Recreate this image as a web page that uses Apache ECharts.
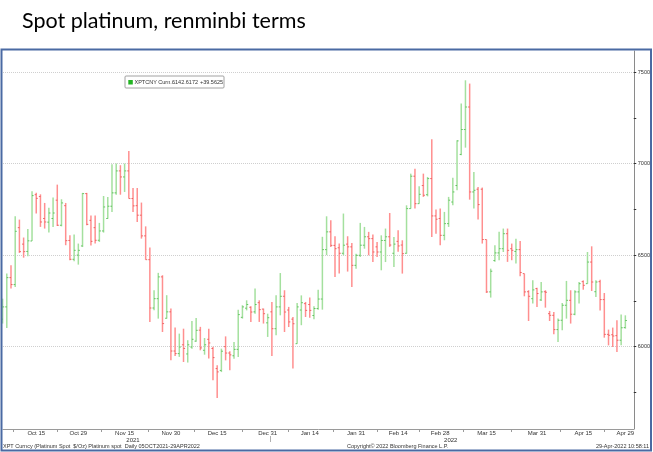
<!DOCTYPE html>
<html><head><meta charset="utf-8">
<script src="https://cdn.jsdelivr.net/npm/echarts@6/dist/echarts.min.js"></script>
<style>html,body{margin:0;padding:0;background:#fff;}#c{width:653px;height:452px;}</style>
</head><body><div id="c"></div>
<script>
const dates = [
'2021-10-05','2021-10-06','2021-10-07','2021-10-08','2021-10-11','2021-10-12','2021-10-13','2021-10-14','2021-10-15','2021-10-18','2021-10-19','2021-10-20','2021-10-21','2021-10-22','2021-10-25','2021-10-26','2021-10-27','2021-10-28','2021-10-29',
'2021-11-01','2021-11-02','2021-11-03','2021-11-04','2021-11-05','2021-11-08','2021-11-09','2021-11-10','2021-11-11','2021-11-12','2021-11-15','2021-11-16','2021-11-17','2021-11-18','2021-11-19','2021-11-22','2021-11-23','2021-11-24','2021-11-25','2021-11-26','2021-11-29','2021-11-30',
'2021-12-01','2021-12-02','2021-12-03','2021-12-06','2021-12-07','2021-12-08','2021-12-09','2021-12-10','2021-12-13','2021-12-14','2021-12-15','2021-12-16','2021-12-17','2021-12-20','2021-12-21','2021-12-22','2021-12-23','2021-12-24','2021-12-27','2021-12-28','2021-12-29','2021-12-30','2021-12-31',
'2022-01-03','2022-01-04','2022-01-05','2022-01-06','2022-01-07','2022-01-10','2022-01-11','2022-01-12','2022-01-13','2022-01-14','2022-01-17','2022-01-18','2022-01-19','2022-01-20','2022-01-21','2022-01-24','2022-01-25','2022-01-26','2022-01-27','2022-01-28','2022-01-31',
'2022-02-01','2022-02-02','2022-02-03','2022-02-04','2022-02-07','2022-02-08','2022-02-09','2022-02-10','2022-02-11','2022-02-14','2022-02-15','2022-02-16','2022-02-17','2022-02-18','2022-02-21','2022-02-22','2022-02-23','2022-02-24','2022-02-25','2022-02-28',
'2022-03-01','2022-03-02','2022-03-03','2022-03-04','2022-03-07','2022-03-08','2022-03-09','2022-03-10','2022-03-11','2022-03-14','2022-03-15','2022-03-16','2022-03-17','2022-03-18','2022-03-21','2022-03-22','2022-03-23','2022-03-24','2022-03-25','2022-03-28','2022-03-29','2022-03-30','2022-03-31',
'2022-04-01','2022-04-04','2022-04-05','2022-04-06','2022-04-07','2022-04-08','2022-04-11','2022-04-12','2022-04-13','2022-04-14','2022-04-15','2022-04-18','2022-04-19','2022-04-20','2022-04-21','2022-04-22','2022-04-25','2022-04-26','2022-04-27','2022-04-28','2022-04-29'];
const openV = [6150,6217,6377,6339,6650,6560,6520,6577,6830,6820,6700,6680,6700,6800,6663,6770,6580,6477,6500,6550,6836,6690,6650,6581,6632,6700,6767,6840,6960,6927,6960,6809,6770,6718,6605,6475,6211,6262,6381,6155,6190,5976,5962,6010,5960,5998,6030,6090,5980,6040,5990,5880,5870,6000,5965,5950,5985,6160,6210,6215,6190,6240,6205,6130,6190,6098,6217,6275,6200,6150,6016,6200,6235,6230,6170,6208,6260,6530,6627,6553,6540,6510,6560,6545,6444,6499,6554,6600,6590,6545,6517,6580,6600,6510,6575,6555,6510,6754,6931,6781,6880,6830,6918,6714,6700,6608,6672,6790,6880,7050,7186,7309,6845,6860,6860,6585,6299,6470,6512,6535,6617,6535,6520,6530,6399,6300,6262,6317,6255,6300,6180,6171,6093,6144,6226,6253,6177,6299,6355,6344,6462,6300,6355,6257,6067,6065,6060,6035,6104];
const highV = [6262,6399,6444,6712,6694,6596,6643,6849,6840,6832,6785,6759,6814,6885,6805,6785,6608,6612,6563,6840,6840,6717,6717,6676,6823,6818,6996,7000,6991,7000,7069,6867,6867,6787,6657,6541,6308,6403,6390,6281,6208,6104,6071,6098,6035,6140,6157,6108,6047,6098,6000,5898,5989,6056,5975,6025,6202,6226,6253,6220,6317,6253,6208,6180,6244,6280,6402,6308,6217,6162,6238,6280,6244,6268,6220,6311,6600,6712,6690,6603,6563,6727,6603,6566,6508,6676,6654,6627,6612,6572,6608,6645,6730,6599,6636,6581,6772,6945,6972,6876,6945,6927,7133,6749,6754,6736,6818,6923,7127,7328,7455,7437,6954,6872,6869,6585,6426,6554,6627,6645,6645,6563,6590,6577,6399,6308,6362,6322,6353,6308,6195,6189,6153,6238,6359,6308,6308,6353,6362,6517,6548,6362,6366,6293,6093,6104,6144,6175,6171];
const lowV = [6126,6102,6317,6326,6512,6486,6494,6577,6727,6654,6645,6623,6654,6659,6657,6554,6472,6466,6448,6544,6663,6552,6563,6572,6623,6699,6736,6830,6830,6845,6809,6736,6681,6590,6475,6135,6199,6153,6080,6153,5926,5949,5944,5916,5913,5989,6026,5980,5956,5935,5816,5720,5861,5925,5871,5934,5943,6153,6198,6135,6180,6135,6126,6053,5949,6062,6171,6080,6107,5880,6016,6117,6162,6158,6149,6202,6202,6500,6544,6381,6399,6499,6410,6326,6426,6490,6535,6499,6462,6490,6417,6462,6545,6435,6518,6399,6508,6754,6754,6781,6818,6821,6599,6617,6554,6581,6654,6772,6854,7045,7087,6803,6754,6694,6563,6293,6268,6463,6472,6517,6463,6472,6454,6384,6275,6140,6235,6217,6249,6213,6140,6067,6025,6089,6153,6126,6171,6235,6311,6344,6304,6271,6198,6049,6007,5998,5971,6007,6098];
const closeV = [6217,6377,6339,6630,6519,6519,6578,6825,6810,6681,6681,6730,6730,6663,6785,6579,6477,6526,6526,6836,6668,6575,6581,6632,6763,6767,6840,6960,6927,6960,6809,6769,6718,6605,6475,6211,6262,6381,6126,6190,5976,5962,5998,5990,6010,6040,6089,5993,6010,6020,5940,5862,5975,5965,5955,5985,6175,6217,6230,6189,6230,6202,6180,6158,6098,6217,6275,6189,6135,6125,6217,6240,6198,6198,6208,6260,6530,6627,6553,6535,6510,6554,6545,6444,6499,6554,6600,6590,6517,6517,6580,6600,6555,6560,6550,6508,6754,6931,6781,6832,6827,6918,6714,6696,6608,6672,6800,6845,7124,7186,7309,6845,6854,6776,6585,6299,6412,6512,6535,6617,6526,6526,6530,6405,6299,6275,6310,6290,6299,6297,6171,6093,6144,6226,6253,6177,6299,6344,6335,6462,6353,6353,6257,6067,6062,6058,6035,6103.0547,6142.6172];

const xLabelDates = ['2021-10-15','2021-10-29','2021-11-15','2021-11-30','2021-12-15','2021-12-31','2022-01-14','2022-01-31','2022-02-14','2022-02-28','2022-03-15','2022-03-31','2022-04-15','2022-04-29'];
const xLabelText = ['Oct 15','Oct 29','Nov 15','Nov 30','Dec 15','Dec 31','Jan 14','Jan 31','Feb 14','Feb 28','Mar 15','Mar 31','Apr 15','Apr 29'];
const yearText = ['2021','2022'];
const yLabelValues = [6000,6500,7000,7500];
const yTickValues = [5750,6000,6250,6500,6750,7000,7250,7500];
const titleText = 'Spot platinum, renminbi terms';
const seriesName = 'XPTCNY Curn...';
const footerLeft = 'XPT Curncy (Platinum Spot  $/Oz) Platinum spot  Daily 05OCT2021-29APR2022';
const footerMid = 'Copyright\u00A9 2022 Bloomberg Finance L.P.';
const footerRight = '29-Apr-2022 10:58:11';

const xLabelIdx = xLabelDates.map(d => dates.indexOf(d));
const xTickIdx = [];
{
  const all = [xLabelIdx[0] - 11].concat(xLabelIdx);
  for (let i = 1; i < all.length; i++) xTickIdx.push((all[i] + all[i-1]) / 2);
}
const yearIdx = [31, 106.5];
const yearBreak = [dates.indexOf('2021-12-31') + 0.5];

const ohlc = dates.map((d, i) => [i, openV[i], closeV[i], lowV[i], highV[i]]);
const lastC = closeV[closeV.length - 1];
const chg = lastC - closeV[closeV.length - 2];

const smallFont = 'Liberation Sans, Arial, sans-serif';
const chart = echarts.init(document.getElementById('c'), null, {renderer: 'canvas'});
chart.setOption({
  animation: false,
  backgroundColor: '#ffffff',
  grid: {left: 3, right: 19, top: 51, bottom: 23},
  xAxis: [{
    type: 'value', min: 0.1, max: 150, position: 'bottom',
    axisLine: {show: true, lineStyle: {color: '#9a9a9a', width: 1}},
    axisTick: {show: true, customValues: xTickIdx, length: 3, lineStyle: {color: '#9a9a9a'}},
    axisLabel: {customValues: xLabelIdx, formatter: v => xLabelText[xLabelIdx.indexOf(v)] || '', fontSize: 6, fontFamily: smallFont, color: '#333', margin: 1.5},
    splitLine: {show: false}
  }, {
    type: 'value', min: 0.1, max: 150, position: 'bottom', offset: 7,
    axisLine: {show: false},
    axisTick: {show: true, customValues: yearBreak, length: 6, lineStyle: {color: '#b0b0b0'}},
    axisLabel: {customValues: yearIdx, formatter: v => yearText[yearIdx.indexOf(v)] || '', fontSize: 6, fontFamily: smallFont, color: '#333', margin: 1.5},
    splitLine: {show: false}
  }],
  yAxis: {
    type: 'value', position: 'right', min: 5550, max: 7615, scale: true,
    axisLine: {show: true, lineStyle: {color: '#8a8a8a', width: 1}},
    axisTick: {show: true, customValues: yTickValues, length: 2.5, lineStyle: {color: '#333'}},
    axisLabel: {customValues: yLabelValues, formatter: v => String(v), fontSize: 5.5, fontFamily: smallFont, color: '#333', margin: 4},
    splitLine: {show: false}
  },
  series: [{
    type: 'custom',
    name: seriesName,
    xAxisIndex: 0,
    data: ohlc,
    clip: false,
    renderItem: function (params, api) {
      const x = api.value(0), o = api.value(1), c = api.value(2), l = api.value(3), h = api.value(4);
      const pO = api.coord([x, o]), pC = api.coord([x, c]), pL = api.coord([x, l]), pH = api.coord([x, h]);
      const up = c >= o;
      const bar = up ? '#a4e09e' : '#ff8f8f';
      const tk = up ? '#45b845' : '#e84a4a';
      return {type: 'group', children: [
        {type: 'line', shape: {x1: pH[0], y1: pH[1], x2: pL[0], y2: pL[1]}, style: {stroke: bar, lineWidth: 1.5}},
        {type: 'line', shape: {x1: pO[0] - 1.6, y1: pO[1], x2: pO[0], y2: pO[1]}, style: {stroke: tk, lineWidth: 0.8}},
        {type: 'line', shape: {x1: pC[0], y1: pC[1], x2: pC[0] + 1.6, y2: pC[1]}, style: {stroke: tk, lineWidth: 0.8}}
      ]};
    },
    markLine: {
      silent: true, symbol: ['none', 'none'], label: {show: false},
      lineStyle: {color: '#cfcfcf', type: 'dotted', width: 1},
      data: yLabelValues.map(v => ({yAxis: v})),
      z: 0
    },
    z: 2
  }],
  graphic: [
    {type: 'text', left: 22, top: 10, style: {text: titleText, font: '21.5px Lato, "Open Sans", sans-serif', fill: '#000'}},
    {type: 'rect', shape: {x: 1.5, y: 49.5, width: 649.5, height: 401}, style: {fill: 'none', stroke: '#4a6aa3', lineWidth: 2}, z: 100},
    {type: 'rect', shape: {x: 125, y: 76, width: 99, height: 12, r: 1}, style: {fill: '#fff', stroke: '#8c8c8c', lineWidth: 0.8}, z: 50},
    {type: 'rect', shape: {x: 128.3, y: 80, width: 4.5, height: 4.5}, style: {fill: '#22b422'}, z: 51},
    {type: 'text', x: 134.5, y: 82.2, style: {text: seriesName, font: '5.5px ' + smallFont, fill: '#333', verticalAlign: 'middle'}, z: 51},
    {type: 'text', x: 172, y: 82.2, style: {text: lastC.toFixed(4), font: '5.5px ' + smallFont, fill: '#333', verticalAlign: 'middle'}, z: 51},
    {type: 'text', x: 200, y: 82.2, style: {text: (chg >= 0 ? '+' : '') + chg.toFixed(4), font: '5.5px ' + smallFont, fill: '#333', verticalAlign: 'middle'}, z: 51},
    {type: 'text', x: 3, y: 446.3, style: {text: footerLeft, font: '5.5px ' + smallFont, fill: '#333', verticalAlign: 'middle'}, z: 51},
    {type: 'text', x: 347, y: 446.3, style: {text: footerMid, font: '5.5px ' + smallFont, fill: '#333', verticalAlign: 'middle'}, z: 51},
    {type: 'text', x: 649, y: 446.3, style: {text: footerRight, font: '5.5px ' + smallFont, fill: '#333', verticalAlign: 'middle', align: 'right'}, z: 51}
  ]
});
</script></body></html>
